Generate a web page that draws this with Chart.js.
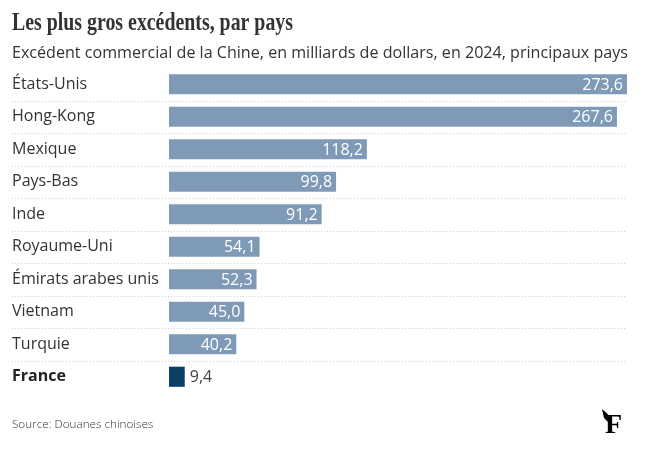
<!DOCTYPE html>
<html lang="fr">
<head>
<meta charset="utf-8">
<script src="https://cdn.jsdelivr.net/npm/chart.js@4/dist/chart.umd.min.js"></script>
<style>
  html, body { margin: 0; padding: 0; background: #fff; }
  #wrap { width: 646px; height: 449px; position: relative; }
</style>
</head>
<body>
<div id="wrap"><canvas id="excedentsChart"></canvas></div>
<script>
// Excédent commercial de la Chine, 2024 (milliards de dollars)
const pays = ['États-Unis', 'Hong-Kong', 'Mexique', 'Pays-Bas', 'Inde', 'Royaume-Uni',
              'Émirats arabes unis', 'Vietnam', 'Turquie', 'France'];
const excedents = [273.6, 267.6, 118.2, 99.8, 91.2, 54.1, 52.3, 45.0, 40.2, 9.4];
const paysMisEnAvant = 'France';

const titre = 'Les plus gros excédents, par pays';
const sousTitre = 'Excédent commercial de la Chine, en milliards de dollars, en 2024, principaux pays';
const source = 'Source: Douanes chinoises';

const SANS = '"Open Sans", "Noto Sans", sans-serif';
const BAR_COLOR = '#7f9ab7';
const HIGHLIGHT_COLOR = '#0b3f66';

function formatFr(v) {
    return v.toFixed(1).replace('.', ',');
}

// dotted separators between rows, from label column to right edge
const separators = {
    id: 'separators',
    beforeDatasetsDraw(chart) {
        const y = chart.scales.y;
        const ctx = chart.ctx;
        ctx.save();
        ctx.strokeStyle = '#cfcfcf';
        ctx.lineWidth = 1;
        ctx.setLineDash([1, 2]);
        for (let i = 0; i < pays.length - 1; i++) {
            const yy = Math.round((y.getPixelForValue(i) + y.getPixelForValue(i + 1)) / 2) + 0.5;
            ctx.beginPath();
            ctx.moveTo(12, yy);
            ctx.lineTo(chart.chartArea.right, yy);
            ctx.stroke();
        }
        ctx.restore();
    }
};

// value labels at the end of each bar
const valueLabels = {
    id: 'valueLabels',
    afterDatasetsDraw(chart) {
        const ctx = chart.ctx;
        const meta = chart.getDatasetMeta(0);
        ctx.save();
        ctx.font = '16px ' + SANS;
        ctx.textBaseline = 'middle';
        meta.data.forEach((bar, i) => {
            const txt = formatFr(excedents[i]);
            const w = ctx.measureText(txt).width;
            if (bar.x - bar.base > w + 10) {
                ctx.fillStyle = '#ffffff';
                ctx.textAlign = 'right';
                ctx.fillText(txt, bar.x - 4, bar.y + 1);
            } else {
                ctx.fillStyle = '#444';
                ctx.textAlign = 'left';
                ctx.fillText(txt, bar.x + 5, bar.y + 1);
            }
        });
        ctx.restore();
    }
};

// header, source and logo
const decorations = {
    id: 'decorations',
    afterDraw(chart) {
        const ctx = chart.ctx;
        ctx.save();
        ctx.fillStyle = '#333';
        ctx.textAlign = 'left';
        ctx.textBaseline = 'alphabetic';

        // condensed serif title
        ctx.font = 'bold 26px "Liberation Serif", serif';
        const tw = ctx.measureText(titre).width;
        ctx.save();
        ctx.translate(12, 29.5);
        ctx.scale(281 / tw, 1);
        ctx.fillText(titre, 0, 0);
        ctx.restore();

        ctx.font = '16px ' + SANS;
        const sw = ctx.measureText(sousTitre).width;
        ctx.save();
        ctx.translate(12, 57.5);
        ctx.scale(616 / sw, 1);
        ctx.fillText(sousTitre, 0, 0);
        ctx.restore();

        ctx.font = '300 11.7px ' + SANS;
        ctx.fillText(source, 12, 428);

        // logo
        ctx.fillStyle = '#000';
        ctx.font = 'bold 28px "Liberation Serif", serif';
        ctx.fillText('F', 605, 433);
        ctx.beginPath();
        ctx.moveTo(602, 409);
        ctx.lineTo(612, 418);
        ctx.lineTo(610, 424);
        ctx.lineTo(604, 418);
        ctx.closePath();
        ctx.fill();
        ctx.restore();
    }
};

new Chart(document.getElementById('excedentsChart'), {
    type: 'bar',
    data: {
        labels: pays,
        datasets: [{
            data: excedents,
            backgroundColor: pays.map(p => p === paysMisEnAvant ? HIGHLIGHT_COLOR : BAR_COLOR),
            borderWidth: 0,
            barPercentage: 0.62,
            categoryPercentage: 1
        }]
    },
    options: {
        indexAxis: 'y',
        responsive: true,
        maintainAspectRatio: false,
        animation: false,
        layout: {
            padding: { left: 12, right: 19, top: 68, bottom: 56 }
        },
        scales: {
            x: {
                display: false,
                min: 0,
                max: 273.6
            },
            y: {
                border: { display: false },
                grid: { display: false, drawTicks: false },
                afterFit(scale) { scale.width = 157; },
                ticks: {
                    crossAlign: 'far',
                    padding: 0,
                    color: ctx => pays[ctx.index] === paysMisEnAvant ? '#222' : '#333',
                    font: ctx => ({
                        family: SANS,
                        size: 16,
                        weight: pays[ctx.index] === paysMisEnAvant ? 'bold' : 'normal'
                    })
                }
            }
        },
        plugins: {
            legend: { display: false },
            title: { display: false },
            tooltip: { enabled: false }
        }
    },
    plugins: [separators, valueLabels, decorations]
});
</script>
</body>
</html>
